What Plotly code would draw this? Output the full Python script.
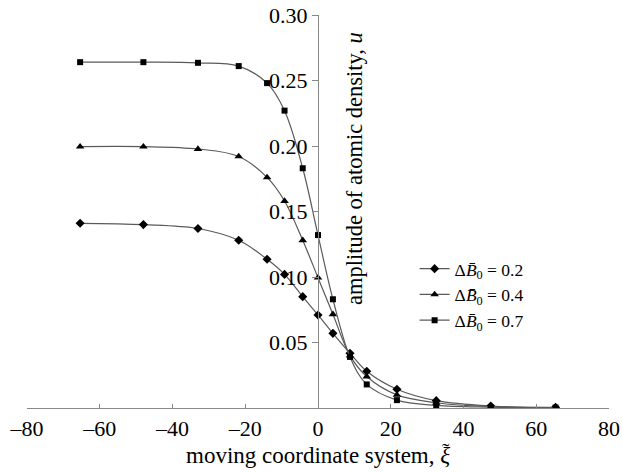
import plotly.graph_objects as go

xi = [-65.4, -48.0, -33.0, -21.8, -14.0, -9.2, -4.2, 0.0, 4.1, 8.8, 13.4, 21.7, 32.5, 47.5, 65.3]
u_02 = [0.141, 0.140, 0.137, 0.128, 0.1135, 0.102, 0.085, 0.071, 0.057, 0.0418, 0.028, 0.0143, 0.0056, 0.0015, 0.0005]
u_04 = [0.1995, 0.1995, 0.1977, 0.192, 0.176, 0.158, 0.128, 0.0995, 0.0715, 0.040, 0.024, 0.010, 0.004, 0.001, 0.0004]
u_07 = [0.264, 0.264, 0.2635, 0.261, 0.248, 0.227, 0.183, 0.132, 0.083, 0.039, 0.018, 0.006, 0.002, 0.0007, 0.0003]

series_names = ["Δ<i>B̄</i><sub>0</sub> = 0.2", "Δ<i>B̄</i><sub>0</sub> = 0.4", "Δ<i>B̄</i><sub>0</sub> = 0.7"]
x_ticks = [-80, -60, -40, -20, 0, 20, 40, 60, 80]
y_ticks = [0.05, 0.10, 0.15, 0.20, 0.25, 0.30]

FONT = "Liberation Serif, Times New Roman, serif"
fig = go.Figure()
for vals, name, sym, sz in [(u_02, series_names[0], "diamond", 7),
                            (u_04, series_names[1], "triangle-up", 7.5),
                            (u_07, series_names[2], "square", 6)]:
    fig.add_trace(go.Scatter(
        x=xi, y=vals, name=name, mode="lines+markers",
        line=dict(color="#5a5a5a", width=1.2, shape="spline", smoothing=1),
        marker=dict(symbol=sym, size=sz, color="black"),
    ))

fig.update_layout(
    width=622, height=472,
    margin=dict(l=27, r=13, t=15, b=64),
    plot_bgcolor="white", paper_bgcolor="white",
    font=dict(family=FONT, size=22, color="black"),
    showlegend=True,
    legend=dict(x=0.666, y=0.40, xanchor="left", yanchor="top",
                font=dict(size=17.5), bgcolor="rgba(0,0,0,0)",
                itemwidth=30, tracegroupgap=0),
    xaxis=dict(range=[-80, 80], tickvals=x_ticks,
               ticktext=[("–" + str(abs(v))) if v < 0 else str(v) for v in x_ticks],
               showline=True, linecolor="#888888", linewidth=1.2,
               ticks="inside", ticklen=4, tickcolor="#888888",
               showgrid=False, zeroline=False, tickfont=dict(size=22),
               automargin=False),
    yaxis=dict(range=[0, 0.30], tickvals=y_ticks,
               ticktext=["%.2f" % v for v in y_ticks],
               anchor="free", position=0.5,
               showline=True, linecolor="#888888", linewidth=1.2,
               ticks="outside", ticklen=6, tickcolor="#888888",
               showgrid=False, zeroline=False, tickfont=dict(size=22),
               automargin=False),
)

fig.add_annotation(x=10.1, y=0.183, xref="x", yref="y",
                   text="amplitude of atomic density, <i>u</i>",
                   textangle=-90, showarrow=False,
                   font=dict(size=22.5, family=FONT))
fig.add_annotation(x=0.5, y=-0.122, xref="paper", yref="paper",
                   text="moving coordinate system, <i>ξ</i>",
                   showarrow=False, yanchor="middle",
                   font=dict(size=23, family=FONT))
fig.add_annotation(x=(452 - 27) / 582, y=(408 - 450) / 393, xref="paper", yref="paper",
                   text="˜", showarrow=False, yanchor="middle",
                   font=dict(size=22, family=FONT))

fig.write_html("out.html", config={"displayModeBar": False},
               post_script="document.body.style.margin='0';")
